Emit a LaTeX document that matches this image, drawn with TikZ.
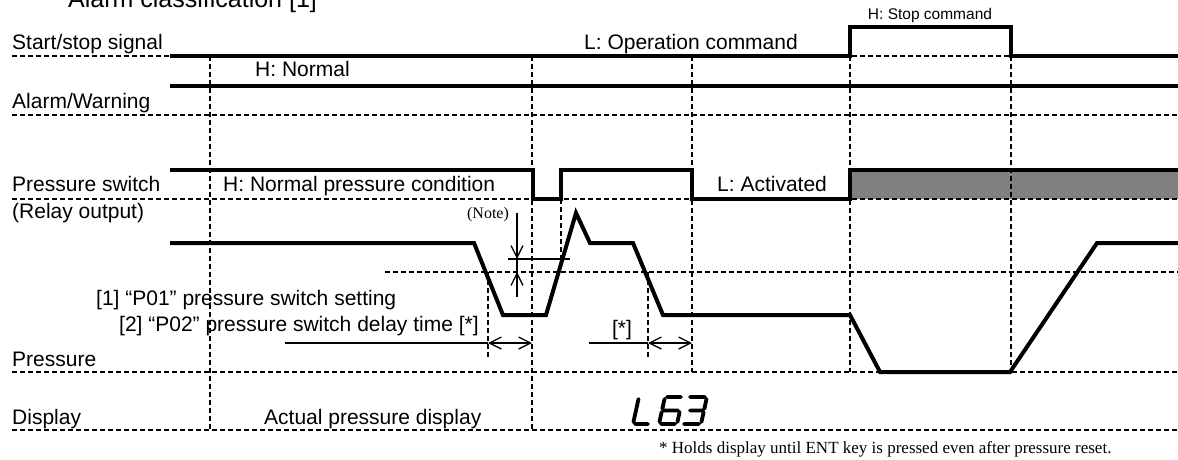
\documentclass[tikz,border=0pt]{standalone}
\usepackage{fontspec}
\setmainfont{Liberation Sans}
\newfontfamily\notefont{Liberation Serif}
\usepackage{tikz}
\usetikzlibrary{arrows.meta, calc}
\definecolor{chart-ink}{HTML}{000000}
\definecolor{chart-fill}{HTML}{808080}

\tikzset{
  sig/.style={chart-ink, line width=4pt},
  guide/.style={chart-ink, line width=1.2pt, dash pattern=on 5pt off 3pt},
  thin/.style={chart-ink, line width=1.3pt},
  lbl/.style={anchor=base west, inner sep=0pt, font=\fontsize{21}{25}\selectfont},
  small/.style={inner sep=0pt, font=\fontsize{15.5}{18}\selectfont},
  note/.style={inner sep=0pt, font=\notefont\fontsize{16}{19}\selectfont},
  barb/.tip={Straight Barb[length=12pt, width=12pt]},
  seg/.style={chart-ink, line width=3.8pt, line cap=round}
}

\begin{document}
\begin{tikzpicture}[x=1pt, y=-1pt]
    \useasboundingbox (0,0) rectangle (1178,459);

    % title, cut by the top edge
    \node[anchor=base west, inner sep=0pt, font=\fontsize{25}{30}\selectfont] (title) at (68,7) {Alarm classification [1]};

    % row labels
    \node[lbl] (start) at (12,49) {Start/stop signal};
    \node[lbl] (alarm) at (12,108) {Alarm/Warning};
    \node[lbl] (psw) at (12,191) {Pressure switch};
    \node[lbl] (relay) at (12,218) {(Relay output)};
    \node[lbl] (press) at (12,366) {Pressure};
    \node[lbl] (disp) at (12,424) {Display};

    % state texts
    \node[lbl] (normal) at (255,76) {H: Normal};
    \node[lbl, anchor=base east] (opcmd) at (798,49) {L: Operation command};
    \node[small, anchor=base] (stopcmd) at (930,19) {H: Stop command};
    \node[lbl] (pnormal) at (223,191) {H: Normal pressure condition};
    \node[lbl] (activ) at (717,191) {L: Activated};
    \node[note, anchor=base] (note) at (488,218) {(Note)};
    \node[lbl] (p01) at (96,305) {[1] “P01” pressure switch setting};
    \node[lbl] (p02) at (119,331) {[2] “P02” pressure switch delay time [*]};
    \node[lbl, anchor=base] (star) at (622,335) {[*]};
    \node[lbl] (actual) at (264,424) {Actual pressure display};
    \node[note, anchor=base west, font=\notefont\fontsize{17}{20}\selectfont] (hold) at (659,453) {* Holds display until ENT key is pressed even after pressure reset.};

    % gray band after stop
    \fill[chart-fill] (850,170) rectangle (1178,199);

    % dashed guides
    \foreach \y in {56,115,199,372,430}
        \draw[guide] (12,\y) -- (1178,\y);
    \draw[guide] (385,272) -- (1178,272);
    \foreach \x/\ya/\yb in {210/56/430, 532/56/430, 692/56/372, 850/56/372,
                             1011/56/372, 561/199/264, 488/272/358, 648/272/358}
        \draw[guide] (\x,\ya) -- (\x,\yb);

    % signals
    \draw[sig] (170,56) -- (850,56) -- (850,27) -- (1011,27) -- (1011,56) -- (1178,56);
    \draw[sig] (170,86) -- (1178,86);
    \draw[sig] (170,170) -- (533,170) -- (533,199) -- (561,199) -- (561,170)
        -- (692,170) -- (692,199) -- (850,199) -- (850,170) -- (1178,170);
    \draw[sig] (170,243) -- (474,243) -- (503,315) -- (546,315) -- (576,213)
        -- (590,243) -- (633,243) -- (663,315) -- (850,315) -- (880,372)
        -- (1010,372) -- (1097,243) -- (1178,243);

    % note: hysteresis mark
    \coordinate (ntop) at (517,213);
    \coordinate (nbot) at (517,297);
    \draw[thin] (508,259) -- (570,259);
    \draw[thin] (ntop) -- (nbot);
    \draw[thin, -{barb}] (ntop) -- (517,259);
    \draw[thin, -{barb}] (nbot) -- (517,272);

    % delay times
    \coordinate (d1a) at (488,343);
    \coordinate (d1b) at (532,343);
    \coordinate (d2a) at (648,343);
    \coordinate (d2b) at (692,343);
    \draw[thin] (285,343) -- (d1a);
    \draw[thin, {barb}-{barb}] (d1a) -- (d1b);
    \draw[thin] (589,343) -- (d2a);
    \draw[thin, {barb}-{barb}] (d2a) -- (d2b);

    % L63 on the display
    \begin{scope}[shift={(633,424)}, xslant=0.22]
        \draw[seg] (0,-25) -- (0,-2) (2,0) -- (15,0);
    \end{scope}
    \begin{scope}[shift={(659,424)}, xslant=0.22]
        \draw[seg] (2,-27) -- (16,-27) (0,-25) -- (0,-15) (0,-12) -- (0,-2)
            (2,-13.5) -- (16,-13.5) (18,-12) -- (18,-2) (2,0) -- (16,0);
    \end{scope}
    \begin{scope}[shift={(684,424)}, xslant=0.22]
        \draw[seg] (0,-27) -- (15,-27) (17,-25) -- (17,-15) (3,-13.5) -- (15,-13.5)
            (17,-12) -- (17,-2) (0,0) -- (15,0);
    \end{scope}
\end{tikzpicture}
\end{document}
